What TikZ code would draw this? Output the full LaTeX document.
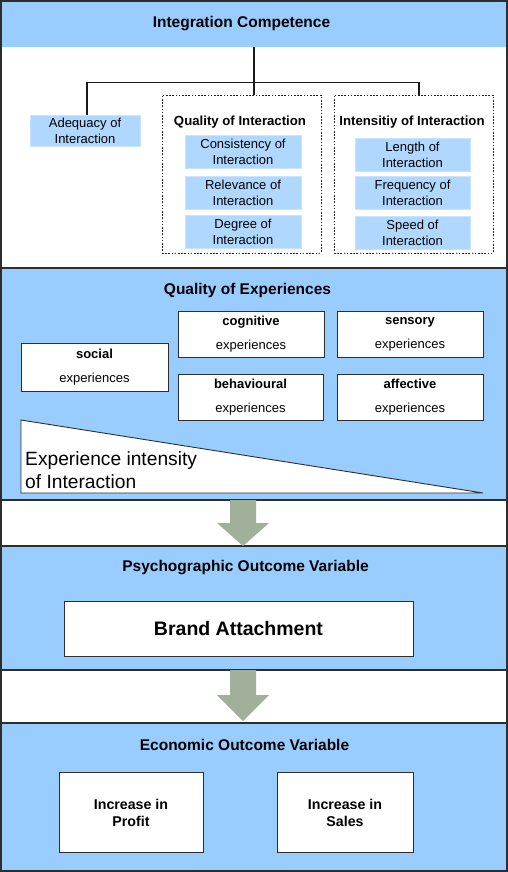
\documentclass[tikz,border=0pt]{standalone}
\usepackage{fontspec}
\setmainfont{Liberation Sans}
\definecolor{secblue}{RGB}{153,204,255}
\definecolor{subblue}{RGB}{176,216,255}
\definecolor{subedge}{RGB}{200,228,255}
\definecolor{arrgreen}{RGB}{161,176,153}
\definecolor{edgegray}{RGB}{45,45,45}
\begin{document}
\begin{tikzpicture}[x=1pt,y=-1pt,
  sectitle/.style={font=\fontsize{15.5}{18}\selectfont\bfseries, inner sep=0pt},
  grptitle/.style={font=\fontsize{13.2}{16}\selectfont\bfseries, inner sep=0pt},
  subbox/.style={fill=subblue, draw=subedge, line width=0.8pt, inner sep=0pt,
    align=center, font=\fontsize{13}{15.8}\selectfont},
  dashbox/.style={draw=black!85, line width=0.9pt, dash pattern=on 1.6pt off 1.6pt, inner sep=0pt},
  expbox/.style={fill=white, draw=edgegray, line width=0.9pt, inner sep=0pt,
    align=center, font=\fontsize{13}{15.6}\selectfont},
  whitebox/.style={fill=white, draw=edgegray, line width=0.9pt, inner sep=0pt, align=center},
  tree/.style={draw=black!90, line width=1.3pt},
  secline/.style={draw=edgegray, line width=1.3pt},
  blockarrow/.style={fill=arrgreen, draw=none}
]
\useasboundingbox (0,0) rectangle (508,872);
% section backgrounds
\fill[secblue] (0,0) rectangle (508,47);
\fill[white] (0,47) rectangle (508,268);
\fill[secblue] (0,268) rectangle (508,500);
\fill[white] (0,500) rectangle (508,546);
\fill[secblue] (0,546) rectangle (508,670);
\fill[white] (0,670) rectangle (508,723);
\fill[secblue] (0,723) rectangle (508,872);
\draw[secline] (0,268) -- (508,268);
\draw[secline] (0,500) -- (508,500);
\draw[secline] (0,546) -- (508,546);
\draw[secline] (0,670) -- (508,670);
\draw[secline] (0,723) -- (508,723);
\draw[draw=edgegray, line width=1.6pt] (0.8,0.8) rectangle (507.2,871.2);

% ---------- Integration Competence ----------
\node[inner sep=0pt, minimum width=508pt, minimum height=47pt] (icband) at (254,23.5) {};
\node[sectitle] (ic) at (241.5,24) {Integration Competence};

\node[subbox, minimum width=110pt, minimum height=31pt] (adeq) at (85,131) {Adequacy of\\Interaction};

\node[dashbox, minimum width=159pt, minimum height=158pt] (qoi) at (241.5,174) {};
\node[grptitle] (qoit) at (240,122.5) {Quality of Interaction};
\node[subbox, minimum width=116pt, minimum height=33pt] (cons) at (243,152) {Consistency of\\Interaction};
\node[subbox, minimum width=116pt, minimum height=33pt] (rel) at (243,192.5) {Relevance of\\Interaction};
\node[subbox, minimum width=116pt, minimum height=33pt] (deg) at (243,231.5) {Degree of\\Interaction};

\node[dashbox, minimum width=159pt, minimum height=158pt] (ioi) at (413.5,174) {};
\node[grptitle] (ioit) at (412,122.5) {Intensitiy of Interaction};
\node[subbox, minimum width=115pt, minimum height=33pt] (len) at (412.5,154.5) {Length of\\Interaction};
\node[subbox, minimum width=115pt, minimum height=33pt] (freq) at (412.5,192.5) {Frequency of\\Interaction};
\node[subbox, minimum width=115pt, minimum height=33pt] (speed) at (412.5,232.5) {Speed of\\Interaction};

\path (icband.south) ++(0,35) coordinate (junc);
\draw[tree] (icband.south) -- (junc);
\draw[tree] (junc) -| ([xshift=2pt]adeq.north);
\draw[tree] (junc) -- (junc |- qoi.north);
\draw[tree] (junc) -| ([xshift=5.5pt]ioi.north);

% ---------- Quality of Experiences ----------
\node[sectitle] (qoe) at (247.5,290) {Quality of Experiences};
\node[expbox, minimum width=146pt, minimum height=46pt] (cog) at (251,334) {\textbf{cognitive}\\[8.5pt]experiences};
\node[expbox, minimum width=146pt, minimum height=46pt] (sens) at (410,334) {\textbf{sensory}\\[8.5pt]experiences};
\node[expbox, minimum width=147pt, minimum height=48pt] (soc) at (94.5,367) {\textbf{social}\\[8.5pt]experiences};
\node[expbox, minimum width=145pt, minimum height=46pt] (beh) at (250.5,397) {\textbf{behavioural}\\[8.5pt]experiences};
\node[expbox, minimum width=146pt, minimum height=46pt] (aff) at (410,397) {\textbf{affective}\\[8.5pt]experiences};
\draw[fill=white, draw=edgegray, line width=0.9pt] (21,420) -- (483,493) -- (21,493) -- cycle;
\node[anchor=west, align=left, inner sep=0pt, font=\fontsize{19.2}{23}\selectfont] (intens) at (25,470) {Experience intensity\\of Interaction};

% ---------- arrow 1 ----------
\coordinate (a1) at (243,500);
\fill[blockarrow] (a1) ++(-13,0) -- ++(26,0) -- ++(0,23) -- ++(13,0) -- ++(-26,23) -- ++(-26,-23) -- ++(13,0) -- cycle;

% ---------- Psychographic ----------
\node[sectitle] (psy) at (245.5,568) {Psychographic Outcome Variable};
\node[whitebox, minimum width=349pt, minimum height=55pt, font=\fontsize{19.5}{23}\selectfont\bfseries] (brand) at (238.5,628.5) {Brand Attachment};

% ---------- arrow 2 ----------
\coordinate (a2) at (243,670);
\fill[blockarrow] (a2) ++(-13,0) -- ++(26,0) -- ++(0,25) -- ++(13,0) -- ++(-26,26) -- ++(-26,-26) -- ++(13,0) -- cycle;

% ---------- Economic ----------
\node[sectitle] (eco) at (244.5,744.5) {Economic Outcome Variable};
\node[whitebox, minimum width=144pt, minimum height=80pt, font=\fontsize{14.2}{17}\selectfont\bfseries] (profit) at (131,812.5) {Increase in\\Profit};
\node[whitebox, minimum width=136pt, minimum height=80pt, font=\fontsize{14.2}{17}\selectfont\bfseries] (sales) at (345,812.5) {Increase in\\Sales};
\end{tikzpicture}
\end{document}
